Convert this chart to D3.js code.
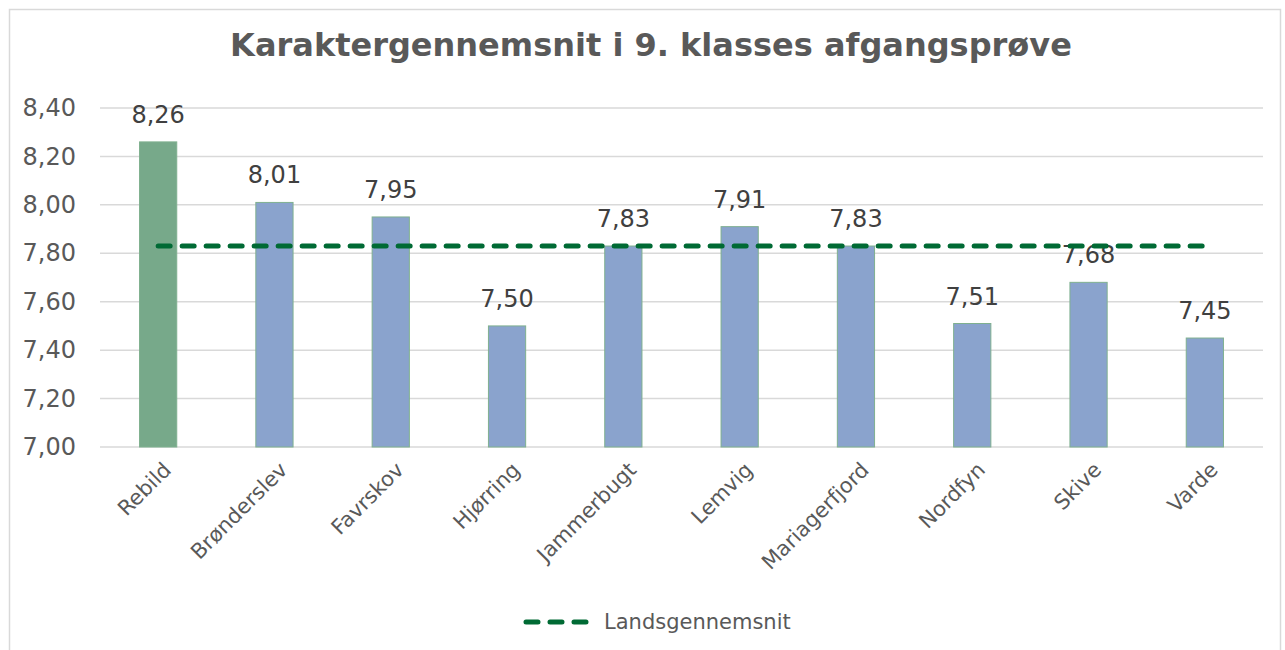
<!DOCTYPE html>
<html>
<head>
<meta charset="utf-8">
<script src="https://cdn.jsdelivr.net/npm/d3@7"></script>
<style>
	body { margin: 0; background: #fff; }
	text { font-family: "DejaVu Sans", Verdana, sans-serif; }
</style>
</head>
<body>
<svg id="chart" width="1285" height="650"></svg>
<script>
const kommuner = ["Rebild", "Brønderslev", "Favrskov", "Hjørring", "Jammerbugt", "Lemvig", "Mariagerfjord", "Nordfyn", "Skive", "Varde"];
const karakterer = [8.26, 8.01, 7.95, 7.50, 7.83, 7.91, 7.83, 7.51, 7.68, 7.45];
const landsgennemsnit = [7.83, 7.83, 7.83, 7.83, 7.83, 7.83, 7.83, 7.83, 7.83, 7.83];
const yTicks = [7.0, 7.2, 7.4, 7.6, 7.8, 8.0, 8.2, 8.4];

const svg = d3.select("#chart");
const fmt = d => d3.format(".2f")(d).replace(".", ",");

// chart frame
svg.append("rect")
	.attr("x", 9.5).attr("y", 9.5)
	.attr("width", 1271).attr("height", 660)
	.attr("fill", "#fff")
	.attr("stroke", "#d9d9d9")
	.attr("stroke-width", 1.5);

const x = d3.scaleBand()
	.domain(kommuner)
	.range([100, 1263])
	.paddingInner(0.68)
	.paddingOuter(0.34);

const y = d3.scaleLinear()
	.domain([7.0, 8.4])
	.range([447, 108]);

// gridlines
svg.append("g").selectAll("line")
	.data(yTicks)
	.enter().append("line")
	.attr("x1", 100).attr("x2", 1263)
	.attr("y1", d => y(d)).attr("y2", d => y(d))
	.attr("stroke", "#d9d9d9")
	.attr("stroke-width", 1.5);

// y axis labels
const yAxis = d3.axisLeft(y).tickValues(yTicks).tickFormat(fmt).tickSize(0).tickPadding(24);
const yg = svg.append("g").attr("transform", "translate(100,0)").call(yAxis);
yg.select(".domain").remove();
yg.selectAll("text")
	.attr("fill", "#595959")
	.style("font-size", "24px")
	.style("font-family", "'DejaVu Sans', Verdana, sans-serif");

// bars
svg.append("g").selectAll("rect")
	.data(kommuner)
	.enter().append("rect")
	.attr("x", d => x(d))
	.attr("width", x.bandwidth())
	.attr("y", (d, i) => y(karakterer[i]))
	.attr("height", (d, i) => y(7.0) - y(karakterer[i]))
	.attr("fill", (d, i) => i === 0 ? "#77a98a" : "#8aa3cd")
	.attr("stroke", "#7fb08f")
	.attr("stroke-width", 1);

// value labels
svg.append("g").selectAll("text")
	.data(kommuner)
	.enter().append("text")
	.attr("x", d => x(d) + x.bandwidth() / 2)
	.attr("y", (d, i) => y(karakterer[i]) - 19)
	.attr("text-anchor", "middle")
	.attr("fill", "#404040")
	.style("font-size", "24px")
	.text((d, i) => fmt(karakterer[i]));

// x axis labels
svg.append("g").selectAll("text")
	.data(kommuner)
	.enter().append("text")
	.attr("transform", d => "translate(" + (x(d) + x.bandwidth() / 2 + 9) + "," + 466 + ") rotate(-45)")
	.attr("text-anchor", "end")
	.attr("dy", "0.35em")
	.attr("fill", "#595959")
	.style("font-size", "21px")
	.text(d => d);

// average line
const line = d3.line()
	.x((d, i) => x(kommuner[i]) + x.bandwidth() / 2)
	.y(d => y(d));

svg.append("path")
	.datum(landsgennemsnit)
	.attr("d", line)
	.attr("fill", "none")
	.attr("stroke", "#006a34")
	.attr("stroke-width", 5)
	.attr("stroke-linecap", "round")
	.attr("stroke-dasharray", "12,12");

// title
svg.append("text")
	.attr("x", 651).attr("y", 56)
	.attr("text-anchor", "middle")
	.attr("fill", "#595959")
	.style("font-size", "32px")
	.style("font-weight", "bold")
	.text("Karaktergennemsnit i 9. klasses afgangsprøve");

// legend
const legend = svg.append("g").attr("transform", "translate(0,622)");
legend.append("line")
	.attr("x1", 526).attr("x2", 586)
	.attr("y1", 0).attr("y2", 0)
	.attr("stroke", "#006a34")
	.attr("stroke-width", 5)
	.attr("stroke-linecap", "round")
	.attr("stroke-dasharray", "12,12");
legend.append("text")
	.attr("x", 604).attr("y", 0)
	.attr("dy", "0.35em")
	.attr("fill", "#595959")
	.style("font-size", "21px")
	.text("Landsgennemsnit");
</script>
</body>
</html>
